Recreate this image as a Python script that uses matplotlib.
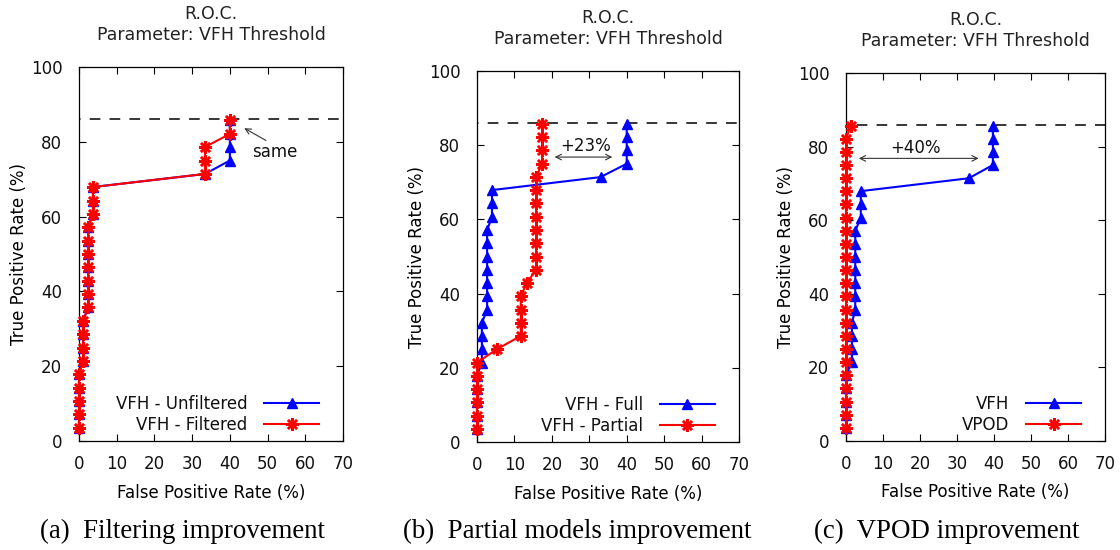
import numpy as np
import matplotlib.pyplot as plt

# true positive rate (%) for each VFH threshold, shared by all the curves
tpr = [3.4, 7.1, 10.7, 14.3, 17.9, 21.4, 25.0, 28.6, 32.1, 35.7, 39.3, 42.9,
       46.4, 50.0, 53.6, 57.1, 60.7, 64.3, 67.9, 71.4, 75.0, 78.6, 82.1, 85.7]

# (a) filtering
fpr_unfiltered = [0, 0, 0, 0, 0, 1.1, 1.1, 1.1, 1.1, 2.4, 2.4, 2.4, 2.4, 2.4, 2.4, 2.4,
                  3.7, 3.7, 3.7, 33.4, 40, 40, 40, 40]
fpr_filtered = [0, 0, 0, 0, 0, 1.1, 1.1, 1.1, 1.1, 2.4, 2.4, 2.4, 2.4, 2.4, 2.4, 2.4,
                3.7, 3.7, 3.7, 33.4, 33.4, 33.4, 40, 40]
# (b) partial models
fpr_full = [0, 0, 0, 0, 0, 1.3, 1.3, 1.3, 1.3, 2.7, 2.7, 2.7, 2.7, 2.7, 2.7, 2.7,
            4.0, 4.0, 4.0, 33.0, 40, 40, 40, 40]
fpr_partial = [0, 0, 0, 0, 0, 0, 5.3, 11.7, 11.7, 11.7, 11.7, 13.3,
               15.8, 15.8, 15.8, 15.8, 15.8, 15.8, 15.8, 15.8, 17.4, 17.4, 17.4, 17.4]
# (c) VPOD
fpr_vfh = [0, 0, 0, 0, 0, 1.6, 1.6, 1.6, 1.6, 2.5, 2.5, 2.5, 2.5, 2.5, 2.5, 2.5,
           4.0, 4.0, 4.0, 33.2, 39.7, 39.7, 39.7, 39.7]
fpr_vpod = [0, 0, 0, 0, 0, 0, 0, 0, 0, 0, 0, 0, 0, 0, 0, 0, 0, 0, 0, 0, 0, 0, 0, 1.3]

best_tpr = 86.0

titles = "R.O.C.\nParameter: VFH Threshold"
captions = ["(a)  Filtering improvement", "(b)  Partial models improvement",
            "(c)  VPOD improvement"]
labels = [("VFH - Unfiltered", "VFH - Filtered"),
          ("VFH - Full", "VFH - Partial"),
          ("VFH", "VPOD")]

W, H = 1120, 550
plt.rcParams['font.family'] = 'DejaVu Sans'
plt.rcParams['text.color'] = '#111111'
fig = plt.figure(figsize=(W / 100, H / 100), dpi=100)

# axes boxes in pixels: left, right, top, bottom
boxes = [(79, 343, 67, 441), (477, 739, 71, 442), (846, 1105, 73, 441)]
caption_x = [183, 577, 947]
series = [(fpr_unfiltered, fpr_filtered), (fpr_full, fpr_partial), (fpr_vfh, fpr_vpod)]

axes = []
for i, (l, r, t, b) in enumerate(boxes):
    ax = fig.add_axes([l / W, (H - b) / H, (r - l) / W, (b - t) / H])
    axes.append(ax)
    blue_x, red_x = series[i]
    ax.plot(blue_x, tpr, color='#0000ff', lw=1.5, marker='^', ms=7.5,
            clip_on=False, zorder=3, label=labels[i][0])
    ax.plot(red_x, tpr, color='#ff0000', lw=1.5, marker=(8, 2, 0), ms=9, mew=1.8,
            clip_on=False, zorder=4, label=labels[i][1])
    ax.axhline(best_tpr, color='k', lw=1.1, ls=(6, (7, 6)), zorder=2)

    ax.set_xlim(0, 70)
    ax.set_ylim(0, 100)
    ax.set_xticks(np.arange(0, 71, 10))
    ax.set_yticks(np.arange(0, 101, 20))
    ax.tick_params(direction='in', top=True, right=True, length=5, width=0.8,
                   labelsize=12, labelcolor='#111111')
    ax.tick_params(axis='x', pad=10)
    ax.tick_params(axis='y', pad=12)
    for s in ax.spines.values():
        s.set_linewidth(0.9)

    ax.set_title(titles, fontsize=12.5, pad=19.5, linespacing=1.22, color='#222222')
    ax.set_xlabel("False Positive Rate (%)", fontsize=12)
    ax.set_ylabel("True Positive Rate (%)", fontsize=12)
    ax.xaxis.set_label_coords(0.5, -0.115)
    ax.yaxis.set_label_coords(-51 / (r - l), 0.5)

    ax.legend(loc='lower right', bbox_to_anchor=(1 - 24 / (r - l), 0.02),
              markerfirst=False, frameon=False, numpoints=1, fontsize=12,
              handlelength=3.3, handletextpad=1.0, labelspacing=0.15,
              borderpad=0, borderaxespad=0)

    fig.text(caption_x[i] / W, 12 / H, captions[i], family='Liberation Serif',
             fontsize=19.4, ha='center', va='baseline', color='black')

# annotations
arrow = dict(arrowstyle='->', color='#333333', lw=0.8)
axes[0].annotate('', xy=(43.2, 84.0), xytext=(50.2, 80.0), arrowprops=arrow)
axes[0].text(45.8, 77.4, "same", fontsize=12, va='center', ha='left')

both = dict(arrowstyle='<->', color='#333333', lw=0.8)
axes[1].annotate('', xy=(20.0, 76.8), xytext=(36.9, 76.8), arrowprops=both)
axes[1].text(29.0, 79.8, "+23%", fontsize=12, va='center', ha='center')
axes[2].annotate('', xy=(2.7, 76.8), xytext=(36.6, 76.8), arrowprops=both)
axes[2].text(18.8, 79.7, "+40%", fontsize=12, va='center', ha='center')

fig.savefig("out.png", dpi=100)
